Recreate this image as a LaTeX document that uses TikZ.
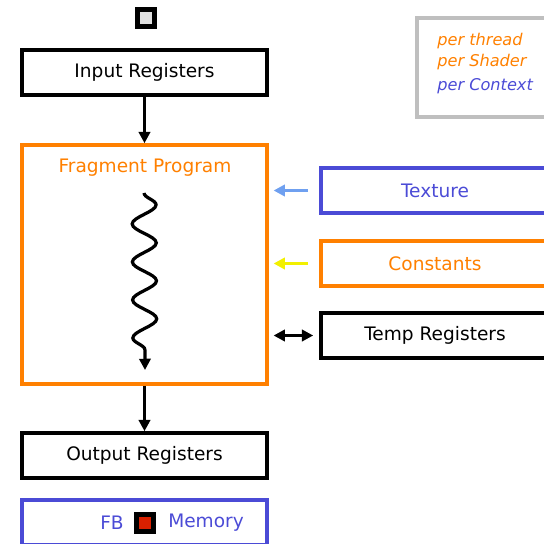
\documentclass[tikz,border=0pt]{standalone}
\usepackage{fontspec}
\setmainfont{DejaVu Sans}
\usetikzlibrary{arrows.meta,positioning,decorations.pathmorphing}
\definecolor{fporange}{HTML}{FF8000}
\definecolor{ctxblue}{HTML}{4B4BD6}
\definecolor{texblue}{HTML}{6FA0F0}
\definecolor{constyellow}{HTML}{F2F000}
\definecolor{legendgray}{HTML}{BFBFBF}
\definecolor{fbred}{HTML}{D92000}

\begin{document}
\begin{tikzpicture}[
    x=0.025cm, y=-0.025cm,
    regbox/.style={draw=black, line width=2.5pt, minimum width=6.125cm, minimum height=1.125cm, align=center, font=\fontsize{13.2}{16}\selectfont},
    sidebox/.style={regbox, minimum width=5.7cm},
    legendtext/.style={anchor=west, font=\fontsize{11.5}{14}\selectfont\itshape, inner sep=0pt},
    arrow/.style={-{Triangle[length=8pt, width=8pt]}, line width=2.3pt},
    tinybox/.style={draw=black, line width=3pt, minimum size=0.42cm, inner sep=0pt}
]
\clip (0,0) rectangle (544,544);
\useasboundingbox (0,0) rectangle (544,544);

% main column
\node[tinybox, fill=black!12] (inbox) at (146,18) {};
\node[regbox] (input) at (144.5,72.5) {Input Registers};
\node[regbox, draw=fporange, minimum height=5.975cm] (frag) at (144.5,264.5) {};
\node[font=\fontsize{13.2}{16}\selectfont, text=fporange] (fragtitle) at (145,168) {Fragment Program};
\coordinate (wavetop) at (144,193);
\coordinate (wavebot) at (145,370);
\node[regbox] (output) at (144.5,455.5) {Output Registers};
\node[regbox, draw=ctxblue] (fbmem) at (144.5,522.5) {};
\node[font=\fontsize{13.2}{16}\selectfont, text=ctxblue] (fbtext) at (112,523) {FB};
\node[tinybox, fill=fbred] (fbsquare) at (145,523) {};
\node[font=\fontsize{13.2}{16}\selectfont, text=ctxblue] (memtext) at (206,523) {Memory};

% side inputs
\node[sidebox, draw=ctxblue, text=ctxblue] (texture) at (435,190.5) {Texture};
\node[sidebox, draw=fporange, text=fporange] (constants) at (435,263.5) {Constants};
\node[sidebox] (temp) at (435,335.5) {Temp Registers};

% legend
\node[draw=legendgray, line width=3pt, minimum width=3.5cm, minimum height=2.475cm] (legend) at (487,67.5) {};
\node[legendtext, text=fporange] (perthread) at (437,41) {per thread};
\node[legendtext, text=fporange] (pershader) at (437,62) {per Shader};
\node[legendtext, text=ctxblue] (percontext) at (437,86) {per Context};

% connectors
\draw[arrow] (input) -- (frag);
\draw[arrow] (frag) -- (output);
\draw[arrow, decorate, decoration={snake, amplitude=0.3cm, segment length=0.95cm, post length=0.4cm}] (wavetop) -- (wavebot);
\draw[arrow, color=texblue] ([xshift=-0.28cm]texture.west) -- ([xshift=0.12cm]frag.east |- texture.west);
\draw[arrow, color=constyellow] ([xshift=-0.28cm]constants.west) -- ([xshift=0.12cm]frag.east |- constants.west);
\draw[{Triangle[length=8pt, width=8pt]}-{Triangle[length=8pt, width=8pt]}, line width=2.3pt] ([xshift=-0.15cm]temp.west) -- ([xshift=0.12cm]frag.east |- temp.west);

\end{tikzpicture}
\end{document}
